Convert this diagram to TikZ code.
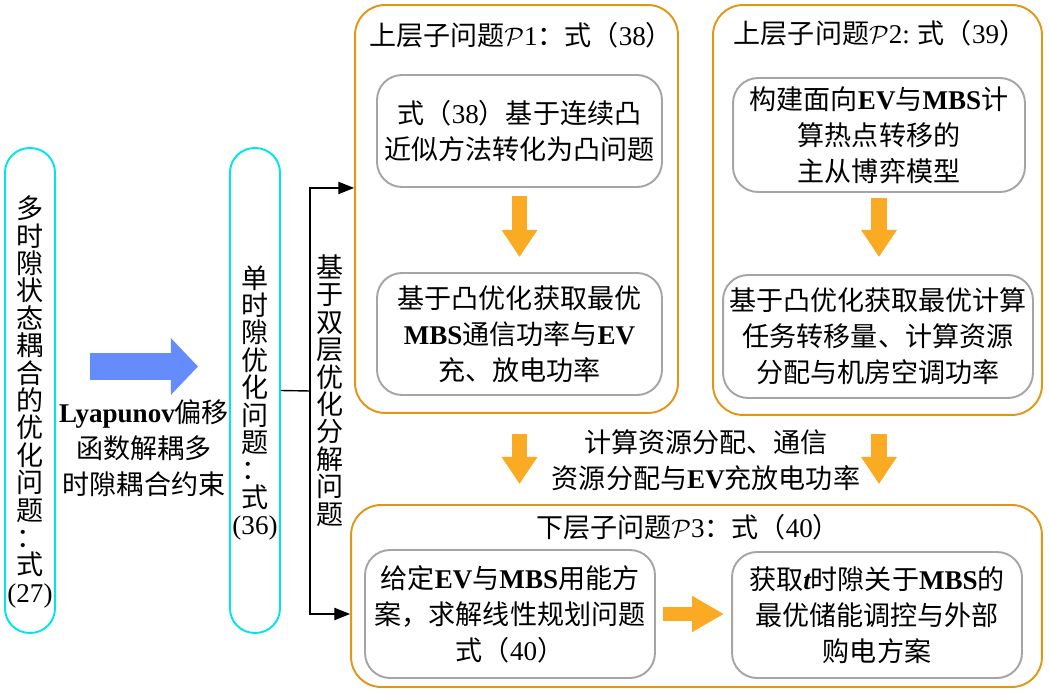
\documentclass[tikz,border=0pt]{standalone}
\usepackage{fontspec}
\setmainfont{Noto Sans CJK SC}
\newfontfamily\lat{Liberation Serif}
\usepackage{tikz}
\usetikzlibrary{arrows.meta, positioning, calc}
\definecolor{tallcyan}{RGB}{0,228,238}
\definecolor{frameorange}{RGB}{224,150,22}
\definecolor{innergray}{RGB}{165,165,165}
\definecolor{fatorange}{RGB}{250,170,35}
\definecolor{fatblue}{RGB}{100,140,250}
\newcommand{\en}[1]{{\lat\bfseries #1}}
\newcommand{\nm}[1]{{\lat #1}}

\begin{document}
\begin{tikzpicture}[
    x=0.02cm, y=-0.02cm,
    font=\fontsize{15.4}{20.5}\selectfont,
    tall/.style={draw=tallcyan, line width=1.1pt, rounded corners=0.49cm,
                 minimum width=1cm, minimum height=9.7cm},
    vtext/.style={align=center, inner sep=0pt, font=\fontsize{15.4}{15.6}\selectfont},
    outer/.style={draw=frameorange, line width=1.1pt, rounded corners=0.6cm},
    inner/.style={draw=innergray, line width=1.1pt, rounded corners=0.5cm,
                  align=center, inner sep=0pt},
    fat/.style={draw=fatorange, line width=9.1pt,
                -{Triangle[length=15.4pt, width=19.3pt]}},
    arr/.style={line width=0.8pt, -{Triangle[length=9pt, width=7pt]}},
]
\useasboundingbox (0,0) rectangle (1049,692);

% Multi-slot and single-slot problems
\node[tall] (multi) at (30,390.5) {};
\node[vtext] (multitxt) at (30,402) {多\\时\\隙\\状\\态\\耦\\合\\的\\优\\化\\问\\题\\：\\式\\\nm{(27)}};
\node[tall] (single) at (255,390.5) {};
\node[vtext] (singletxt) at (255,403) {单\\时\\隙\\优\\化\\问\\题\\：\\式\\\nm{(36)}};

\draw[draw=fatblue, line width=15.4pt, -{Triangle[length=15.4pt, width=31.3pt]},
      shorten <=0.68cm, shorten >=0.62cm]
    ([yshift=0.48cm]multi.east) -- ([yshift=0.48cm]single.west);
\node[align=center] (lyap) at (144,448) {\en{Lyapunov}偏移\\函数解耦多\\时隙耦合约束};

% Bilevel split
\coordinate (split) at (310,391);
\node[vtext] (bilevel) at (330,390.5) {基\\于\\双\\层\\优\\化\\分\\解\\问\\题};

% Upper level P1
\node[outer, minimum width=6.46cm, minimum height=8.16cm] (up) at (516.5,209) {};
\node (uptitle) at (521,35) {上层子问题$\mathcal{P}$\nm{1}：式（\nm{38}）};
\node[inner, minimum width=5.7cm, minimum height=2.24cm] (b1) at (519.5,131)
    {式（\nm{38}）基于连续凸\\近似方法转化为凸问题};
\node[inner, minimum width=5.7cm, minimum height=2.44cm] (b2) at (519.5,334)
    {基于凸优化获取最优\\\en{MBS}通信功率与\en{EV}\\充、放电功率};

% Upper level P2
\node[outer, minimum width=6.58cm, minimum height=8.2cm] (upr) at (877.5,210) {};
\node (uprtitle) at (880,33) {上层子问题$\mathcal{P}$\nm{2:} 式（\nm{39}）};
\node[inner, minimum width=5.84cm, minimum height=2.28cm] (b3) at (879,135)
    {构建面向\en{EV}与\en{MBS}计\\算热点转移的\\主从博弈模型};
\node[inner, minimum width=6.2cm, minimum height=2.46cm] (b4) at (878,336.5)
    {基于凸优化获取最优计算\\任务转移量、计算资源\\分配与机房空调功率};

% Lower level P3
\node[outer, minimum width=13.82cm, minimum height=3.64cm] (low) at (696.5,596) {};
\node (lowtitle) at (688,527) {下层子问题$\mathcal{P}$\nm{3}：式（\nm{40}）};
\node[inner, minimum width=5.8cm, minimum height=2.56cm] (b5) at (510,614)
    {给定\en{EV}与\en{MBS}用能方\\案，求解线性规划问题\\式（\nm{40}）};
\node[inner, minimum width=5.8cm, minimum height=2.52cm] (b6) at (877,615)
    {获取\en{\itshape t}时隙关于\en{MBS}的\\最优储能调控与外部\\购电方案};
\node[align=center] (pass) at (706,460) {计算资源分配、通信\\资源分配与\en{EV}充放电功率};

% Connections
\draw[line width=0.8pt] (single.east) -- (split);
\draw[arr] (split) |- (up.west |- b1.south);
\draw[arr] (split) |- (low.west |- b5.center);
\draw[fat, shorten <=0.16cm, shorten >=0.3cm] (b1.south) -- (b2.north);
\draw[fat, shorten <=0.1cm, shorten >=0.34cm] (b3.south) -- (b3.south |- b4.north);
\draw[fat, shorten <=0.4cm, shorten >=0.4cm] (b2.south |- up.south) -- (b2.south |- low.north);
\draw[fat, shorten <=0.36cm, shorten >=0.4cm] (b3.south |- upr.south) -- (b3.south |- low.north);
\draw[fat, line width=8.5pt, -{Triangle[length=18.2pt, width=19.3pt]},
      shorten <=0.14cm, shorten >=0.14cm] (b5.east) -- (b5.east -| b6.west);

\end{tikzpicture}
\end{document}
